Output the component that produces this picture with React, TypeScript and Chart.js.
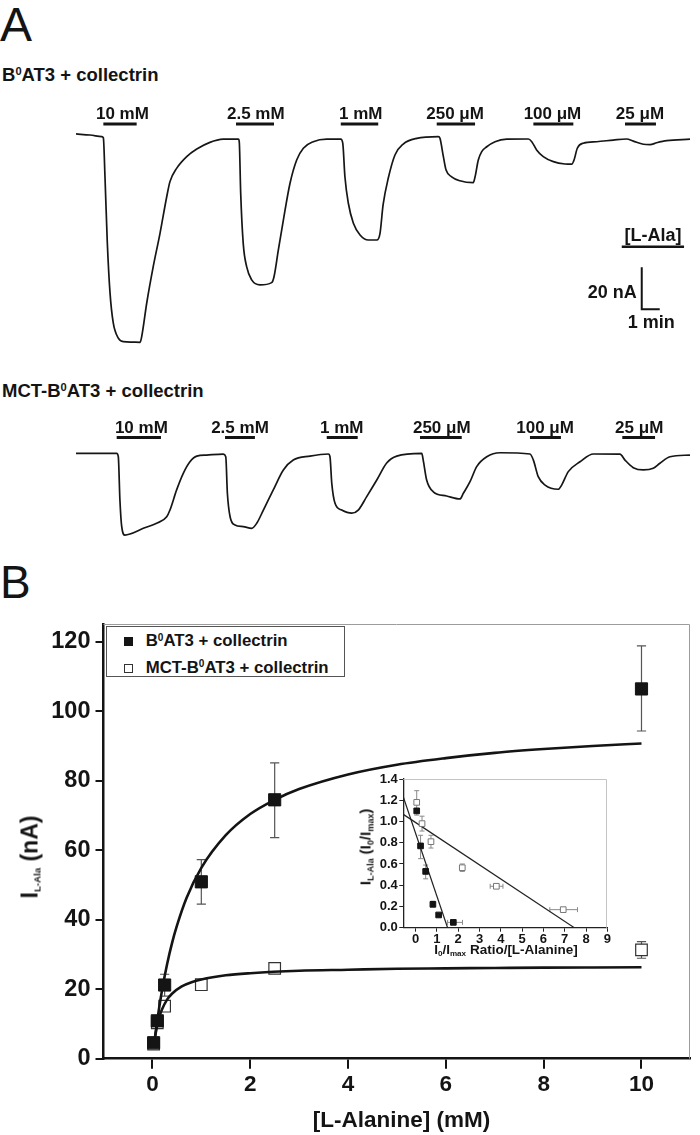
import React, { useEffect, useRef } from "react";
import { Chart, registerables } from "chart.js";

Chart.register(...registerables);

const FONT = '"Liberation Sans", Arial, Helvetica, sans-serif';
const INK = "#141414";

// ---------------- Panel A : current traces (time in min, current in nA vs baseline)
const TRACE1_TIME = [0, 0.78, 1.43, 1.52, 1.61, 1.74, 1.89, 2.07, 2.35, 2.63, 3.11, 3.56, 3.65, 3.93, 4.29, 4.67, 5.04, 5.22, 5.59, 6.15, 6.71, 7.44, 8.18, 9.02, 9.07, 9.15, 9.29, 9.48, 9.76, 10.22, 10.87, 11.0, 11.24, 11.52, 11.89, 12.26, 12.63, 13.18, 13.93, 14.71, 14.82, 14.94, 15.13, 15.41, 15.78, 16.24, 16.71, 16.89, 17.06, 17.35, 17.72, 18.18, 18.93, 20.13, 20.22, 20.41, 20.56, 20.87, 21.33, 22.07, 22.17, 22.35, 22.54, 22.82, 23.28, 23.93, 25.13, 25.32, 25.59, 25.96, 26.52, 27.17, 27.54, 27.67, 27.85, 28.18, 28.93, 29.85, 30.59, 30.96, 31.52, 31.89, 32.26, 32.82, 34.11];
const TRACE1_CURRENT = [2.4, 1.9, 1.1, 0.5, -18.0, -49.5, -73.3, -87.6, -94.8, -96.5, -96.7, -96.8, -94.1, -78.1, -60.8, -44.8, -27.5, -20.3, -14.0, -8.4, -4.8, -1.6, -0.1, 0, -1.3, -25.9, -49.7, -60.8, -67.1, -69.5, -68.4, -65.6, -52.9, -38.6, -21.1, -10.0, -4.4, -1.3, -0.1, -0.1, -2.0, -18.0, -30.6, -40.1, -45.7, -48.1, -48.1, -44.9, -31.4, -18.6, -7.6, -2.4, 0.3, 1.1, 0.3, -8.4, -14.8, -18.0, -19.9, -20.8, -18.0, -10.0, -6.0, -3.7, -1.3, -0.1, 0, -1.3, -5.2, -8.4, -10.8, -11.9, -12.0, -10.0, -4.4, -2.0, -1.3, -0.5, 0, -1.0, -2.5, -2.7, -1.8, -0.8, -0.1];

const TRACE2_TIME = [0, 2.26, 2.35, 2.44, 2.54, 2.72, 3.0, 3.74, 4.48, 5.04, 5.22, 5.59, 5.96, 6.33, 6.71, 7.26, 8.18, 8.32, 8.41, 8.56, 8.83, 9.29, 9.76, 10.04, 10.41, 10.96, 11.52, 12.07, 13.0, 14.02, 14.11, 14.21, 14.39, 14.76, 15.32, 15.68, 16.15, 16.71, 17.26, 17.82, 19.21, 19.29, 19.48, 19.85, 20.59, 21.33, 21.52, 21.89, 22.26, 22.82, 23.56, 25.22, 25.41, 25.68, 26.06, 26.79, 26.98, 27.35, 28.0, 28.74, 30.22, 30.5, 30.96, 31.52, 32.07, 32.44, 33.0, 34.11];
const TRACE2_CURRENT = [0.3, 0.3, -1.3, -21.9, -34.6, -38.6, -38.1, -35.4, -33.0, -29.9, -26.7, -17.1, -9.2, -3.7, -1.0, -0.5, -0.1, -1.3, -18.7, -29.9, -33.8, -34.6, -35.4, -33.0, -26.7, -17.1, -7.6, -2.9, -1.0, 0, -1.3, -14.0, -23.5, -26.7, -28.2, -26.7, -20.3, -12.4, -4.3, -1.0, 0.3, -2.9, -12.4, -18.0, -20.0, -21.4, -18.7, -13.2, -6.0, -1.3, 0.6, 0, -2.9, -10.8, -14.8, -16.8, -14.8, -8.4, -3.7, 0, -0.1, -2.9, -6.5, -7.6, -6.8, -4.4, -1.3, -0.5];

const CONC_LABELS = ["10 mM", "2.5 mM", "1 mM", "250 \u03bcM", "100 \u03bcM", "25 \u03bcM"];
const TRACE1_BAR_START = [1.52, 8.89, 14.71, 20.04, 25.41, 30.5];
const TRACE1_BAR_END = [3.37, 11.0, 16.79, 22.17, 27.63, 32.22];
const TRACE1_LABEL_AT = [2.58, 9.99, 15.82, 21.06, 26.47, 31.33];
const TRACE2_BAR_START = [2.26, 8.28, 13.93, 19.11, 25.22, 30.35];
const TRACE2_BAR_END = [4.72, 9.94, 15.65, 21.43, 26.94, 32.17];
const TRACE2_LABEL_AT = [3.63, 9.11, 14.76, 20.32, 26.06, 31.29];

const SCALE_BAR_NA = 20;
const SCALE_BAR_MIN = 1;

// ---------------- Panel B : dose response
const CONC_MM = [0.025, 0.1, 0.25, 1, 2.5, 10];
const B0AT3_MEAN = [4.6, 10.9, 21.2, 50.9, 74.5, 106.4];
const B0AT3_LOW = [null, null, 18.0, 44.5, 63.6, 94.3];
const B0AT3_HIGH = [null, null, 24.3, 57.3, 85.1, 118.8];
const MCT_MEAN = [4.2, 10.3, 15.1, 21.3, 26.0, 31.3];
const MCT_LOW = [null, 9.0, 13.7, null, null, 28.9];
const MCT_HIGH = [null, 11.8, 16.6, null, null, 33.7];

const FIT_B0AT3_X = [0.03, 0.1, 0.2, 0.3, 0.4, 0.5, 0.7, 1, 1.5, 2, 2.5, 3, 4, 5, 6, 7, 8, 9, 10];
const FIT_B0AT3_Y = [3.6, 11.1, 20.0, 27.2, 33.2, 38.2, 46.3, 54.9, 64.3, 70.4, 74.5, 77.6, 81.8, 84.6, 86.5, 88.0, 89.1, 90.0, 90.7];
const FIT_MCT_X = [0.05, 0.1, 0.15, 0.2, 0.3, 0.4, 0.6, 0.8, 1, 1.5, 2, 3, 4, 5, 6, 7, 8, 9, 10];
const FIT_MCT_Y = [6.0, 9.8, 12.4, 14.3, 17.0, 18.7, 20.8, 22.0, 22.8, 24.0, 24.6, 25.3, 25.6, 25.9, 26.0, 26.1, 26.2, 26.25, 26.3];

const MAIN_X_TICKS = [0, 2, 4, 6, 8, 10];
const MAIN_Y_TICKS = [0, 20, 40, 60, 80, 100, 120];

// ---------------- Inset : Eadie-Hofstee
const LB_B0AT3_X = [0.05, 0.23, 0.47, 0.81, 1.08, 1.77];
const LB_B0AT3_Y = [1.1, 0.77, 0.53, 0.22, 0.12, 0.05];
const LB_B0AT3_YLOW = [null, 0.65, 0.46, 0.2, null, null];
const LB_B0AT3_YHIGH = [null, 0.87, 0.59, 0.25, null, null];
const LB_B0AT3_XLOW = [null, null, null, null, null, 1.5];
const LB_B0AT3_XHIGH = [null, null, null, null, null, 2.2];
const LB_MCT_X = [0.05, 0.3, 0.72, 2.19, 3.79, 6.93];
const LB_MCT_Y = [1.18, 0.98, 0.81, 0.565, 0.39, 0.17];
const LB_MCT_YLOW = [1.06, 0.91, 0.75, 0.53, null, null];
const LB_MCT_YHIGH = [1.29, 1.05, 0.87, 0.6, null, null];
const LB_MCT_XLOW = [null, null, null, null, 3.5, 6.3];
const LB_MCT_XHIGH = [null, null, null, null, 4.1, 7.6];
const LINE_B0AT3_X = [-0.58, 1.5];
const LINE_B0AT3_Y = [1.23, 0];
const LINE_MCT_X = [-0.58, 7.45];
const LINE_MCT_Y = [1.067, 0];
const INSET_X_TICKS = [0, 1, 2, 3, 4, 5, 6, 7, 8, 9];
const INSET_Y_TICKS = [0, 0.2, 0.4, 0.6, 0.8, 1.0, 1.2, 1.4];

// ---------------- helpers
const pts = (xs: number[], ys: (number | null)[]) => xs.map((x, i) => ({ x, y: ys[i] }));

type ErrSpec = {
  xs: number[];
  ys: number[];
  yLow?: (number | null)[];
  yHigh?: (number | null)[];
  xLow?: (number | null)[];
  xHigh?: (number | null)[];
  color: string;
  width: number;
  cap: number;
};

function errorBarPlugin(id: string, specs: ErrSpec[]) {
  return {
    id,
    beforeDatasetsDraw(chart: any) {
      const { ctx } = chart;
      const x = chart.scales.x;
      const y = chart.scales.y;
      ctx.save();
      specs.forEach((s) => {
        ctx.strokeStyle = s.color;
        ctx.lineWidth = s.width;
        s.xs.forEach((xv, i) => {
          const px = x.getPixelForValue(xv);
          const py = y.getPixelForValue(s.ys[i]);
          const lo = s.yLow ? s.yLow[i] : null;
          const hi = s.yHigh ? s.yHigh[i] : null;
          if (lo != null && hi != null) {
            const p1 = y.getPixelForValue(lo);
            const p2 = y.getPixelForValue(hi);
            ctx.beginPath();
            ctx.moveTo(px, p1);
            ctx.lineTo(px, p2);
            ctx.moveTo(px - s.cap, p1);
            ctx.lineTo(px + s.cap, p1);
            ctx.moveTo(px - s.cap, p2);
            ctx.lineTo(px + s.cap, p2);
            ctx.stroke();
          }
          const xl = s.xLow ? s.xLow[i] : null;
          const xh = s.xHigh ? s.xHigh[i] : null;
          if (xl != null && xh != null) {
            const q1 = x.getPixelForValue(xl);
            const q2 = x.getPixelForValue(xh);
            ctx.beginPath();
            ctx.moveTo(q1, py);
            ctx.lineTo(q2, py);
            ctx.moveTo(q1, py - s.cap);
            ctx.lineTo(q1, py + s.cap);
            ctx.moveTo(q2, py - s.cap);
            ctx.lineTo(q2, py + s.cap);
            ctx.stroke();
          }
        });
      });
      ctx.restore();
    },
  };
}

function framePlugin(color: string) {
  return {
    id: "frameTopRight",
    beforeDatasetsDraw(chart: any) {
      const { ctx, chartArea } = chart;
      const { left, right, top, bottom } = chartArea;
      ctx.save();
      ctx.strokeStyle = color;
      ctx.lineWidth = 1;
      ctx.beginPath();
      ctx.moveTo(left, Math.round(top) + 0.5);
      ctx.lineTo(Math.round(right) - 0.5, Math.round(top) + 0.5);
      ctx.lineTo(Math.round(right) - 0.5, bottom);
      ctx.stroke();
      ctx.restore();
    },
  };
}

// ---------------- text helpers (HTML)
const Sup = ({ children }: { children: React.ReactNode }) => (
  <span style={{ fontSize: "0.6em", position: "relative", top: "-0.55em" }}>{children}</span>
);
const Sub = ({ children, scale = 0.5 }: { children: React.ReactNode; scale?: number }) => (
  <span style={{ fontSize: `${scale}em`, position: "relative", top: "0.35em" }}>{children}</span>
);

function Txt(props: {
  x: number;
  baseline: number;
  size: number;
  weight?: string;
  align?: "left" | "center" | "right";
  children: React.ReactNode;
}) {
  const { x, baseline, size, weight = "bold", align = "left", children } = props;
  const top = baseline - 0.8465 * size;
  const transform = align === "center" ? "translateX(-50%)" : align === "right" ? "translateX(-100%)" : undefined;
  return (
    <div
      style={{
        position: "absolute",
        left: x,
        top,
        fontSize: size,
        lineHeight: 1,
        fontWeight: weight as any,
        whiteSpace: "nowrap",
        transform,
        color: INK,
      }}
    >
      {children}
    </div>
  );
}

function VTxt(props: { cx: number; cy: number; size: number; children: React.ReactNode }) {
  const { cx, cy, size, children } = props;
  return (
    <div
      style={{
        position: "absolute",
        left: cx,
        top: cy,
        fontSize: size,
        lineHeight: 1,
        fontWeight: "bold",
        whiteSpace: "nowrap",
        transform: "translate(-50%, -50%) rotate(-90deg)",
        color: INK,
      }}
    >
      {children}
    </div>
  );
}

// ---------------- Trace chart
const TRACE_LEFT = 76;
const TRACE_RIGHT = 692;
const PX_PER_MIN = 18;
const TRACE_T_MAX = (TRACE_RIGHT - TRACE_LEFT) / PX_PER_MIN;

type TraceProps = {
  top: number;
  height: number;
  time: number[];
  current: number[];
  barStart: number[];
  barEnd: number[];
  labelAt: number[];
  barLevel: number;
  labelLevel: number;
  yMin: number;
  yMax: number;
  withScale?: boolean;
};

function TraceChart(props: TraceProps) {
  const ref = useRef<HTMLCanvasElement | null>(null);
  useEffect(() => {
    const canvas = ref.current;
    if (!canvas) return;
    const { time, current, barStart, barEnd, labelAt, barLevel, labelLevel, yMin, yMax, withScale } = props;
    const barPts: any[] = [];
    barStart.forEach((s, i) => {
      barPts.push({ x: s, y: barLevel }, { x: barEnd[i], y: barLevel }, { x: barEnd[i] + 0.01, y: null });
    });
    const datasets: any[] = [
      {
        data: pts(time, current),
        showLine: true,
        borderColor: "#161616",
        borderWidth: 1.7,
        pointRadius: 0,
        cubicInterpolationMode: "monotone",
      },
      {
        data: barPts,
        showLine: true,
        spanGaps: false,
        borderColor: INK,
        borderWidth: 3,
        borderCapStyle: "butt",
        pointRadius: 0,
      },
    ];
    const SB_T = 31.43;
    const SB_TOP = -61.1;
    if (withScale) {
      datasets.push({
        data: [
          { x: SB_T, y: SB_TOP },
          { x: SB_T, y: SB_TOP - SCALE_BAR_NA },
          { x: SB_T + SCALE_BAR_MIN, y: SB_TOP - SCALE_BAR_NA },
        ],
        showLine: true,
        borderColor: INK,
        borderWidth: 2,
        borderJoinStyle: "miter",
        pointRadius: 0,
      });
      datasets.push({
        data: [
          { x: 30.32, y: -51.3 },
          { x: 33.78, y: -51.3 },
        ],
        showLine: true,
        borderColor: INK,
        borderWidth: 2.5,
        pointRadius: 0,
      });
    }
    const labelPlugin = {
      id: "concLabels",
      afterDatasetsDraw(chart: any) {
        const { ctx } = chart;
        const x = chart.scales.x;
        const y = chart.scales.y;
        ctx.save();
        ctx.fillStyle = INK;
        ctx.font = `bold 17px ${FONT}`;
        ctx.textAlign = "center";
        ctx.textBaseline = "alphabetic";
        CONC_LABELS.forEach((lab, i) => {
          ctx.fillText(lab, x.getPixelForValue(labelAt[i]), y.getPixelForValue(labelLevel));
        });
        if (withScale) {
          ctx.font = `bold 18px ${FONT}`;
          ctx.textAlign = "right";
          ctx.fillText(`${SCALE_BAR_NA} nA`, x.getPixelForValue(31.15), y.getPixelForValue(-75.9));
          ctx.textAlign = "center";
          ctx.fillText(`${SCALE_BAR_MIN} min`, x.getPixelForValue(31.96), y.getPixelForValue(-90.1));
          ctx.fillText("[L-Ala]", x.getPixelForValue(32.05), y.getPixelForValue(-48.6));
        }
        ctx.restore();
      },
    };
    const chart = new Chart(canvas, {
      type: "scatter",
      data: { datasets },
      options: {
        responsive: false,
        animation: false,
        devicePixelRatio: 1,
        layout: { padding: { left: TRACE_LEFT, right: 700 - TRACE_RIGHT, top: 0, bottom: 0 } },
        plugins: { legend: { display: false }, tooltip: { enabled: false } },
        scales: {
          x: { type: "linear", display: false, min: 0, max: TRACE_T_MAX },
          y: { type: "linear", display: false, min: yMin, max: yMax },
        },
      } as any,
      plugins: [labelPlugin],
    });
    return () => chart.destroy();
  }, []);
  return (
    <canvas
      ref={ref}
      width={700}
      height={props.height}
      style={{ position: "absolute", left: 0, top: props.top, width: 700, height: props.height }}
    />
  );
}

// ---------------- Main dose-response chart
const MAIN_TOP = 600;
const MAIN_H = 535;

function MainChart() {
  const ref = useRef<HTMLCanvasElement | null>(null);
  useEffect(() => {
    const canvas = ref.current;
    if (!canvas) return;
    const chart = new Chart(canvas, {
      type: "scatter",
      data: {
        datasets: [
          {
            label: "B0AT3 + collectrin",
            data: pts(CONC_MM, B0AT3_MEAN),
            pointStyle: "rect",
            pointRadius: 8.6,
            backgroundColor: INK,
            borderColor: INK,
            borderWidth: 1,
            order: 0,
          },
          {
            label: "fit B0AT3",
            data: pts(FIT_B0AT3_X, FIT_B0AT3_Y),
            showLine: true,
            pointRadius: 0,
            borderColor: INK,
            borderWidth: 2.6,
            cubicInterpolationMode: "monotone",
            order: 1,
          },
          {
            label: "fit MCT",
            data: pts(FIT_MCT_X, FIT_MCT_Y),
            showLine: true,
            pointRadius: 0,
            borderColor: INK,
            borderWidth: 2.6,
            cubicInterpolationMode: "monotone",
            order: 1,
          },
          {
            label: "MCT-B0AT3 + collectrin",
            data: pts(CONC_MM, MCT_MEAN),
            pointStyle: "rect",
            pointRadius: 8.2,
            backgroundColor: "#ffffff",
            borderColor: "#333",
            borderWidth: 1.2,
            order: 2,
          },
        ],
      },
      options: {
        responsive: false,
        animation: false,
        devicePixelRatio: 1,
        layout: { padding: { left: 0, right: 2, top: 24.3, bottom: 0 } },
        plugins: { legend: { display: false }, tooltip: { enabled: false } },
        scales: {
          x: {
            type: "linear",
            min: -1,
            max: 11,
            afterBuildTicks: (ax: any) => {
              ax.ticks = MAIN_X_TICKS.map((v) => ({ value: v }));
            },
            afterFit: (ax: any) => {
              ax.height = 76.3;
            },
            grid: { display: true, drawOnChartArea: false, drawTicks: true, tickLength: 10, color: INK, lineWidth: 2 },
            border: { display: true, color: INK, width: 2.5 },
            ticks: { font: { family: FONT, size: 22.5, weight: "bold" }, color: INK, padding: 3, autoSkip: false, maxRotation: 0 },
          },
          y: {
            type: "linear",
            min: 0,
            max: 125,
            afterBuildTicks: (ax: any) => {
              ax.ticks = MAIN_Y_TICKS.map((v) => ({ value: v }));
            },
            afterFit: (ax: any) => {
              ax.width = 103.5;
            },
            grid: { display: true, drawOnChartArea: false, drawTicks: true, tickLength: 8, color: INK, lineWidth: 2 },
            border: { display: true, color: INK, width: 2.5 },
            ticks: { font: { family: FONT, size: 23.5, weight: "bold" }, color: INK, padding: 5, autoSkip: false },
          },
        },
      } as any,
      plugins: [
        framePlugin("#9c9c9c"),
        errorBarPlugin("mainErr", [
          { xs: CONC_MM, ys: B0AT3_MEAN, yLow: B0AT3_LOW, yHigh: B0AT3_HIGH, color: "#555", width: 1.2, cap: 4.6 },
          { xs: CONC_MM, ys: MCT_MEAN, yLow: MCT_LOW, yHigh: MCT_HIGH, color: "#555", width: 1.2, cap: 4.6 },
        ]),
      ],
    });
    return () => chart.destroy();
  }, []);
  return (
    <canvas
      ref={ref}
      width={700}
      height={MAIN_H}
      style={{ position: "absolute", left: 0, top: MAIN_TOP, width: 700, height: MAIN_H }}
    />
  );
}

// ---------------- Inset chart
const INSET_LEFT = 340;
const INSET_TOP = 765;
const INSET_W = 275;
const INSET_H = 200;

function InsetChart() {
  const ref = useRef<HTMLCanvasElement | null>(null);
  useEffect(() => {
    const canvas = ref.current;
    if (!canvas) return;
    const tickFont = { family: FONT, size: 13, weight: "bold" as const };
    const chart = new Chart(canvas, {
      type: "scatter",
      data: {
        datasets: [
          {
            label: "B0AT3",
            data: pts(LB_B0AT3_X, LB_B0AT3_Y),
            pointStyle: "rect",
            pointRadius: 4,
            backgroundColor: INK,
            borderColor: INK,
            borderWidth: 1,
            order: 0,
          },
          {
            label: "line B0AT3",
            data: pts(LINE_B0AT3_X, LINE_B0AT3_Y),
            showLine: true,
            pointRadius: 0,
            borderColor: "#222",
            borderWidth: 1.2,
            order: 1,
          },
          {
            label: "line MCT",
            data: pts(LINE_MCT_X, LINE_MCT_Y),
            showLine: true,
            pointRadius: 0,
            borderColor: "#222",
            borderWidth: 1.2,
            order: 1,
          },
          {
            label: "MCT",
            data: pts(LB_MCT_X, LB_MCT_Y),
            pointStyle: "rect",
            pointRadius: 4,
            backgroundColor: "#ffffff",
            borderColor: "#777",
            borderWidth: 1,
            order: 0,
          },
        ],
      },
      options: {
        responsive: false,
        animation: false,
        devicePixelRatio: 1,
        layout: { padding: { left: 0, right: 7.7, top: 14, bottom: 0 } },
        plugins: { legend: { display: false }, tooltip: { enabled: false } },
        scales: {
          x: {
            type: "linear",
            min: -0.58,
            max: 9,
            afterBuildTicks: (ax: any) => {
              ax.ticks = INSET_X_TICKS.map((v) => ({ value: v }));
            },
            afterFit: (ax: any) => {
              ax.height = 37.3;
            },
            grid: { display: true, drawOnChartArea: false, drawTicks: true, tickLength: 4, color: "#222", lineWidth: 1 },
            border: { display: true, color: "#222", width: 1.3 },
            ticks: { font: tickFont, color: INK, padding: 0, autoSkip: false, maxRotation: 0 },
          },
          y: {
            type: "linear",
            min: 0,
            max: 1.4,
            afterBuildTicks: (ax: any) => {
              ax.ticks = INSET_Y_TICKS.map((v) => ({ value: v }));
            },
            afterFit: (ax: any) => {
              ax.width = 63.3;
            },
            grid: { display: true, drawOnChartArea: false, drawTicks: true, tickLength: 4, color: "#222", lineWidth: 1 },
            border: { display: true, color: "#222", width: 1.3 },
            ticks: {
              font: tickFont,
              color: INK,
              padding: 1.5,
              autoSkip: false,
              callback: (v: any) => Number(v).toFixed(1),
            },
          },
        },
      } as any,
      plugins: [
        framePlugin("#c4c4c4"),
        errorBarPlugin("insetErr", [
          {
            xs: LB_MCT_X,
            ys: LB_MCT_Y,
            yLow: LB_MCT_YLOW,
            yHigh: LB_MCT_YHIGH,
            xLow: LB_MCT_XLOW,
            xHigh: LB_MCT_XHIGH,
            color: "#8a8a8a",
            width: 1,
            cap: 2.5,
          },
          {
            xs: LB_B0AT3_X,
            ys: LB_B0AT3_Y,
            yLow: LB_B0AT3_YLOW,
            yHigh: LB_B0AT3_YHIGH,
            xLow: LB_B0AT3_XLOW,
            xHigh: LB_B0AT3_XHIGH,
            color: "#8a8a8a",
            width: 1,
            cap: 2.5,
          },
        ]),
      ],
    });
    return () => chart.destroy();
  }, []);
  return (
    <canvas
      ref={ref}
      width={INSET_W}
      height={INSET_H}
      style={{ position: "absolute", left: INSET_LEFT, top: INSET_TOP, width: INSET_W, height: INSET_H }}
    />
  );
}

// ---------------- App
export default function App() {
  return (
    <div
      style={{
        position: "absolute",
        left: 0,
        top: 0,
        width: 700,
        height: 1135,
        background: "#ffffff",
        overflow: "hidden",
        fontFamily: FONT,
        color: INK,
      }}
    >
      <Txt x={0} baseline={41.6} size={48} weight="normal">
        A
      </Txt>
      <Txt x={2} baseline={81.7} size={18.5}>
        B<Sup>0</Sup>AT3 + collectrin
      </Txt>
      <TraceChart
        top={90}
        height={270}
        time={TRACE1_TIME}
        current={TRACE1_CURRENT}
        barStart={TRACE1_BAR_START}
        barEnd={TRACE1_BAR_END}
        labelAt={TRACE1_LABEL_AT}
        barLevel={7.1}
        labelLevel={9.5}
        yMin={-105.24}
        yMax={23.33}
        withScale
      />
      <Txt x={2} baseline={397.3} size={18.5}>
        MCT-B<Sup>0</Sup>AT3 + collectrin
      </Txt>
      <TraceChart
        top={405}
        height={150}
        time={TRACE2_TIME}
        current={TRACE2_CURRENT}
        barStart={TRACE2_BAR_START}
        barEnd={TRACE2_BAR_END}
        labelAt={TRACE2_LABEL_AT}
        barLevel={7.8}
        labelLevel={9.9}
        yMin={-48.1}
        yMax={23.33}
      />

      <Txt x={0} baseline={598.3} size={46} weight="normal">
        B
      </Txt>
      <MainChart />
      <InsetChart />

      {/* legend */}
      <div
        style={{
          position: "absolute",
          left: 106,
          top: 626,
          width: 239,
          height: 51,
          border: "1px solid #555",
          boxSizing: "border-box",
          background: "#fff",
        }}
      />
      <div style={{ position: "absolute", left: 124, top: 637, width: 9, height: 9, background: INK }} />
      <div
        style={{
          position: "absolute",
          left: 124,
          top: 664,
          width: 9,
          height: 9,
          border: "1px solid #333",
          boxSizing: "border-box",
          background: "#fff",
        }}
      />
      <Txt x={145.7} baseline={647.3} size={16.8}>
        B<Sup>0</Sup>AT3 + collectrin
      </Txt>
      <Txt x={145.7} baseline={674} size={16.8}>
        MCT-B<Sup>0</Sup>AT3 + collectrin
      </Txt>

      {/* axis titles */}
      <VTxt cx={30.4} cy={857} size={23}>
        I<Sub scale={0.42}>L-Ala</Sub> (nA)
      </VTxt>
      <Txt x={401.5} baseline={1128} size={22.5} align="center">
        [L-Alanine] (mM)
      </Txt>
      <VTxt cx={365} cy={847} size={15}>
        I<Sub scale={0.6}>L-Ala</Sub> (I<Sub scale={0.6}>0</Sub>/I<Sub scale={0.6}>max</Sub>)
      </VTxt>
      <Txt x={506} baseline={954} size={13.5} align="center">
        I<Sub scale={0.6}>0</Sub>/I<Sub scale={0.6}>max</Sub> Ratio/[L-Alanine]
      </Txt>
    </div>
  );
}
